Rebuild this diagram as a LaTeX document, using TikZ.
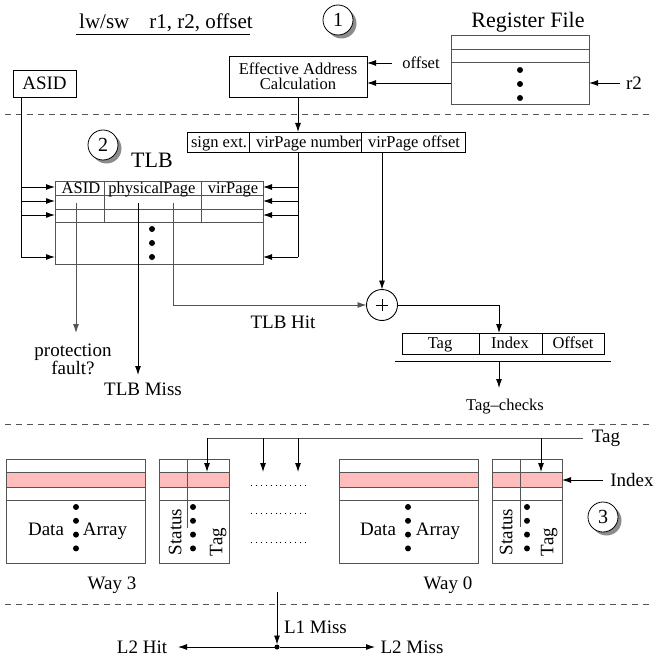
\documentclass[tikz,border=0pt]{standalone}
\usepackage{fontspec}
\setmainfont{Liberation Serif}
\usetikzlibrary{arrows.meta,calc}
\definecolor{gl}{rgb}{0.33,0.33,0.33}
\definecolor{shadowc}{rgb}{0.55,0.55,0.55}
\definecolor{pinkrow}{RGB}{255,188,188}
\newcommand\shcirc[3]{\fill[shadowc] ($(#1)+(3.5,3.5)$) circle (15);
  \node[ncirc] (#2) at (#1) {#3};}
\begin{document}
\begin{tikzpicture}[x=1pt,y=-1pt,
  every node/.style={inner sep=0pt, outer sep=0pt},
  ln/.style={line width=0.9pt},
  bx/.style={draw, line width=0.9pt, anchor=north west},
  arr/.style={ln,-{Latex[length=9pt,width=6pt]}},
  big/.style={font=\fontsize{19}{18}\selectfont, text height=12.6pt, text depth=0pt},
  sml/.style={font=\fontsize{16.5}{15}\selectfont, text height=10.9pt, text depth=0pt},
  bigm/.style={font=\fontsize{19}{18}\selectfont},
  smlm/.style={font=\fontsize{16.5}{15}\selectfont},
  lrg/.style={font=\fontsize{22}{24}\selectfont, text height=14.5pt, text depth=0pt},
  ncirc/.style={circle, draw, fill=white, minimum size=30, line width=0.8pt, font=\fontsize{20}{22}\selectfont},
  sepline/.style={line width=0.9pt, gl, dash pattern=on 6pt off 5pt},
  bul/.style={circle, fill, minimum size=6},
  dots/.style={line width=0.9pt, dash pattern=on 0.9pt off 4pt},
]
\useasboundingbox (0,0) rectangle (654,658);

% ---------- stage 1 ----------
\node[font=\fontsize{21}{20}\selectfont, text height=13.9pt, text depth=0pt] (title) at (166,22) {lw/sw\hspace{0.95em}r1, r2, offset};
\draw[ln] (76,34) -- (250,34);
\shcirc{338,20}{c1}{1}
\node[lrg] (rftitle) at (528,20) {Register File};
\node[bx, gl, minimum width=138, minimum height=69] (rf) at (451,35) {};
\draw[ln, gl] (rf.north west |- 0,49) -- (rf.north east |- 0,49);
\draw[ln, gl] (rf.north west |- 0,62) -- (rf.north east |- 0,62);
\node[bul] (rfd1) at (520,70) {};
\node[bul] (rfd2) at (520,84) {};
\node[bul] (rfd3) at (520,98) {};

\node[bx, minimum width=138, minimum height=41] (eac) at (229,56) {};
\node[smlm, align=center] (eactext) at (eac.center) {Effective Address\\Calculation};

\node[bx, minimum width=63, minimum height=27] (asid) at (13,70) {};
\node[big] (asidtext) at (asid.center) {ASID};

\node[sml] (offl) at (421,63) {offset};
\coordinate (offs) at (392,63);
\draw[arr] (offs) -- (eac.east |- offs);
\coordinate (rfo) at (rf.west |- 0,83);
\draw[arr] (rfo) -- (eac.east |- rfo);
\node[big] (r2) at (634,83) {r2};
\coordinate (r2s) at (620,83);
\draw[arr] (r2s) -- (rf.east |- r2s);

\draw[sepline] (5,114) -- (650,114);

% ---------- stage 2 ----------
\node[bx, minimum width=278, minimum height=20] (sx) at (187,132) {};
\draw[ln] (249,132) -- (249,152);
\draw[ln] (361,132) -- (361,152);
\node[sml] (sxa) at (219,142) {sign ext.};
\node[sml, anchor=west] (sxb) at (256,142) {virPage number};
\node[sml] (sxc) at (414,142) {virPage offset};
\draw[arr] (eac.south) -- (eac.south |- sx.north);

\shcirc{103,145}{c2}{2}
\node[lrg] (tlbtitle) at (152,160) {TLB};

\node[bx, gl, minimum width=208, minimum height=83] (tlb) at (55,181) {};
\draw[ln, gl] (tlb.west |- 0,195) -- (tlb.east |- 0,195);
\draw[ln, gl] (tlb.west |- 0,209) -- (tlb.east |- 0,209);
\draw[ln, gl] (tlb.west |- 0,222) -- (tlb.east |- 0,222);
\draw[ln, gl] (104,181) -- (104,222);
\draw[ln, gl] (201,181) -- (201,222);
\node[sml] (ha) at (81,188) {ASID};
\node[sml] (hb) at (152,188) {physicalPage};
\node[sml] (hc) at (233,188) {virPage};
\node[bul] (td1) at (152,229) {};
\node[bul] (td2) at (152,243) {};
\node[bul] (td3) at (152,257) {};

\coordinate (ad) at ($(asid.south west)+(8,0)$);
\draw[ln] (ad) -- (ad |- 0,257);
\coordinate (vd) at (298,152);
\draw[ln] (vd) -- (vd |- 0,257);
\foreach \yy in {187,201,215,257} {
  \draw[arr] (ad |- 0,\yy) -- (tlb.west |- 0,\yy);
  \draw[arr] (vd |- 0,\yy) -- (tlb.east |- 0,\yy);
}

\node[bigm, align=center] (pf) at (73,359) {protection\\fault?};
\node[big] (miss) at (143,389) {TLB Miss};
\node[big] (hit) at (283,322) {TLB Hit};
\node[circle, draw, line width=0.9pt, minimum size=31,
  path picture={\draw[line width=0.8pt] ([xshift=-6pt]path picture bounding box.center) -- ([xshift=6pt]path picture bounding box.center);
  \draw[line width=0.8pt] ([yshift=-6pt]path picture bounding box.center) -- ([yshift=6pt]path picture bounding box.center);}] (plus) at (382,305) {};

\coordinate (pa) at (76,203);
\coordinate (pb) at (138,203);
\coordinate (pc) at (173,203);
\draw[arr, gl] (pa) -- (pa |- 0,333);
\draw[arr] (pb) -- (pb |- 0,375);
\draw[arr, gl] (pc) -- (pc |- plus) -- (plus.west);
\draw[arr] (sx.south -| plus) -- (plus.north);

\node[bx, minimum width=202, minimum height=21] (tio) at (402,333) {};
\draw[ln] (479,333) -- (479,354);
\draw[ln] (542,333) -- (542,354);
\node[sml] (tioa) at (440,343.5) {Tag};
\node[sml] (tiob) at (510,343.5) {Index};
\node[sml] (tioc) at (573,343.5) {Offset};
\draw[arr] (plus.east) -- (plus.east -| 499,0) -- (tio.north -| 499,0);
\draw[ln] (395,361) -- (611,361);
\coordinate (tcs) at (499,361);
\node[sml] (tchk) at (505,405) {Tag--checks};
\draw[arr] (tcs) -- (tcs |- 0,388);

\draw[sepline] (5,424) -- (650,424);

% ---------- stage 3 ----------
\foreach \nm/\xl/\xr in {d3/6/145, t3/159/229, d0/339/478, t0/492/562} {
  \fill[pinkrow] (\xl,472) rectangle (\xr,487);
  \node[bx, gl, minimum width=\xr-\xl, minimum height=104] (\nm) at (\xl,459) {};
  \draw[ln, gl] (\xl,472) -- (\xr,472);
  \draw[ln, gl] (\xl,487) -- (\xr,487);
  \draw[ln, gl] (\xl,500) -- (\xr,500);
}
\draw[ln, gl] (187,459) -- (187,528);
\draw[ln, gl] (520,459) -- (520,527);
\foreach \xx in {76,193,408,527} {
  \foreach \yy in {507,520.8,534.6,548.4} {
    \fill (\xx,\yy) circle (3);
  }
}
\node[big] (data3) at (46,529) {Data};
\node[big] (arr3) at (105,529) {Array};
\node[big] (data0) at (378,529) {Data};
\node[big] (arr0) at (438,529) {Array};
\node[big, rotate=90] (st3) at (175,532) {Status};
\node[big, rotate=90] (tg3) at (216,542) {Tag};
\node[big, rotate=90] (st0) at (506,532) {Status};
\node[big, rotate=90] (tg0) at (547,542) {Tag};

\draw[dots] (251,485) -- (308,485);
\draw[dots] (251,513) -- (308,513);
\draw[dots] (251,542) -- (308,542);

\node[big] (tagl) at (606,436) {Tag};
\coordinate (tl) at (583,438);
\draw[ln, gl] (tl) -- (207,438);
\draw[arr] (207,438) -- (207,472);
\draw[arr] (263,438) -- (263,472);
\draw[arr] (298,438) -- (298,472);
\draw[arr] (541,438) -- (541,472);

\node[big] (idx) at (632,480) {Index};
\coordinate (ids) at (603,480);
\draw[arr] (ids) -- (t0.east |- ids);
\shcirc{603,517}{c3}{3}

\node[big] (way3) at (112,583) {Way 3};
\node[big] (way0) at (448,583) {Way 0};

\draw[sepline] (5,604) -- (650,604);

% ---------- L2 ----------
\node[bul, minimum size=5] (jn) at (277,647) {};
\coordinate (l1s) at (277,592);
\draw[arr] (l1s) -- (jn.north);
\node[big, anchor=west] (l1) at (284,627) {L1 Miss};
\node[big] (l2h) at (142,647) {L2 Hit};
\node[big] (l2m) at (412,647) {L2 Miss};
\draw[arr] (jn) -- (178,647);
\draw[arr] (jn) -- (375,647);
\end{tikzpicture}
\end{document}
